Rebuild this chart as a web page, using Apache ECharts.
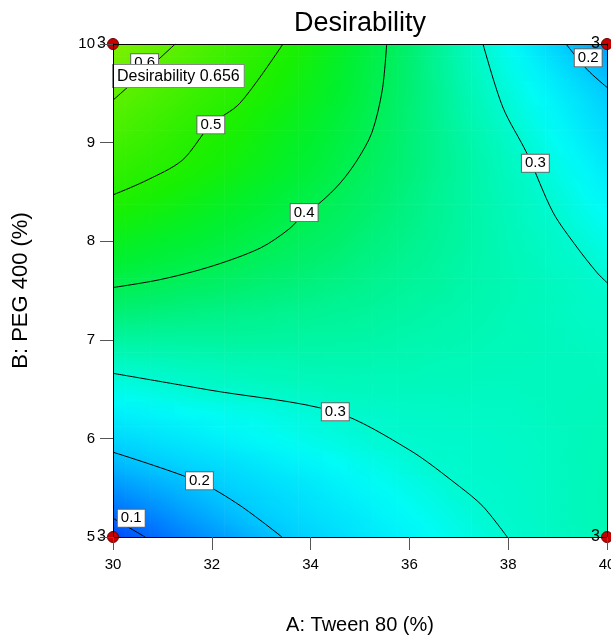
<!DOCTYPE html>
<html>
<head lang="en">
    <meta charset="UTF-8">
    <title>Desirability</title>
    <style>
        html, body { margin: 0; padding: 0; background: #fff; }
    </style>
</head>
<body>
    <div id="main" style="width:611px;height:643px"></div>

    <script src="https://cdn.jsdelivr.net/npm/echarts@6/dist/echarts.min.js"></script>
    <script>
        /* 网格: A (Tween 80) 30..40, B (PEG 400) 10..5 */
        var xVals = [30,30.5,31,31.5,32,32.5,33,33.5,34,34.5,35,35.5,36,36.5,37,37.5,38,38.5,39,39.5,40];
        var yVals = [10,9.75,9.5,9.25,9,8.75,8.5,8.25,8,7.75,7.5,7.25,7,6.75,6.5,6.25,6,5.75,5.5,5.25,5];
        // desirability, one row per yVals entry
        var desir = [
            [0.656,0.634,0.612,0.589,0.566,0.543,0.520,0.497,0.472,0.448,0.423,0.401,0.376,0.351,0.325,0.299,0.270,0.240,0.210,0.182,0.155],
            [0.631,0.609,0.587,0.566,0.545,0.523,0.502,0.481,0.460,0.438,0.417,0.397,0.374,0.351,0.328,0.306,0.281,0.256,0.230,0.205,0.181],
            [0.606,0.586,0.567,0.547,0.527,0.508,0.489,0.470,0.451,0.432,0.413,0.394,0.373,0.353,0.332,0.312,0.291,0.269,0.247,0.225,0.203],
            [0.580,0.562,0.544,0.525,0.507,0.490,0.473,0.457,0.440,0.423,0.407,0.389,0.371,0.353,0.335,0.318,0.300,0.279,0.258,0.237,0.216],
            [0.555,0.539,0.523,0.506,0.491,0.476,0.461,0.446,0.431,0.416,0.401,0.386,0.370,0.355,0.339,0.324,0.308,0.290,0.269,0.249,0.228],
            [0.529,0.516,0.504,0.490,0.477,0.463,0.449,0.436,0.422,0.408,0.395,0.381,0.368,0.354,0.341,0.327,0.314,0.300,0.280,0.261,0.241],
            [0.503,0.493,0.481,0.469,0.457,0.445,0.433,0.421,0.410,0.398,0.386,0.375,0.363,0.351,0.340,0.328,0.317,0.305,0.290,0.272,0.254],
            [0.477,0.467,0.458,0.448,0.438,0.428,0.419,0.409,0.399,0.389,0.379,0.369,0.359,0.349,0.339,0.329,0.319,0.309,0.299,0.283,0.266],
            [0.450,0.442,0.434,0.427,0.419,0.411,0.403,0.395,0.387,0.379,0.370,0.362,0.354,0.346,0.338,0.330,0.321,0.313,0.305,0.294,0.279],
            [0.424,0.418,0.412,0.406,0.400,0.394,0.387,0.381,0.374,0.368,0.361,0.355,0.348,0.342,0.335,0.329,0.322,0.316,0.309,0.303,0.291],
            [0.397,0.392,0.388,0.383,0.379,0.374,0.370,0.365,0.361,0.356,0.352,0.347,0.342,0.338,0.333,0.328,0.323,0.318,0.314,0.308,0.302],
            [0.368,0.365,0.363,0.360,0.358,0.355,0.353,0.350,0.348,0.345,0.343,0.339,0.336,0.332,0.329,0.325,0.321,0.317,0.314,0.310,0.307],
            [0.339,0.339,0.339,0.339,0.340,0.340,0.339,0.338,0.337,0.336,0.334,0.332,0.329,0.327,0.325,0.322,0.320,0.318,0.315,0.313,0.311],
            [0.310,0.313,0.315,0.318,0.320,0.322,0.323,0.324,0.325,0.325,0.325,0.324,0.323,0.321,0.320,0.318,0.317,0.316,0.315,0.315,0.314],
            [0.280,0.285,0.291,0.296,0.301,0.304,0.308,0.311,0.313,0.315,0.316,0.316,0.316,0.315,0.315,0.314,0.314,0.315,0.315,0.316,0.317],
            [0.249,0.255,0.260,0.266,0.271,0.277,0.282,0.288,0.293,0.299,0.304,0.306,0.308,0.309,0.310,0.310,0.311,0.313,0.315,0.317,0.319],
            [0.218,0.226,0.234,0.241,0.249,0.257,0.264,0.272,0.279,0.286,0.293,0.299,0.302,0.304,0.305,0.306,0.308,0.311,0.314,0.318,0.321],
            [0.184,0.196,0.206,0.215,0.223,0.232,0.241,0.250,0.258,0.267,0.276,0.284,0.293,0.301,0.303,0.305,0.307,0.310,0.314,0.318,0.322],
            [0.146,0.160,0.174,0.188,0.201,0.211,0.221,0.230,0.240,0.250,0.260,0.270,0.279,0.289,0.299,0.302,0.305,0.309,0.313,0.318,0.323],
            [0.109,0.126,0.143,0.160,0.176,0.193,0.206,0.216,0.227,0.237,0.247,0.258,0.268,0.278,0.289,0.299,0.304,0.308,0.313,0.318,0.323],
            [0.072,0.094,0.113,0.131,0.149,0.167,0.185,0.202,0.213,0.224,0.235,0.246,0.257,0.268,0.279,0.290,0.300,0.306,0.312,0.317,0.323]
        ];

        /* 等高线 [A, B] */
        var c06 = [[31.26,10],[30.65,9.72],[30,9.43]];
        var c05 = [[33.44,10],[32.57,9.40],[31.98,9.18],[31.40,8.82],[30.65,8.61],[30,8.47]];
        var c04 = [[35.54,10],[35.45,9.53],[35.24,9.10],[34.94,8.82],[34.60,8.59],[34.19,8.39],[33.89,8.29],
                   [33.58,8.13],[32.98,7.93],[31.96,7.74],[30.95,7.61],[30,7.53]];
        var c03r = [[37.49,10],[37.89,9.36],[38.38,8.89],[38.91,8.29],[39.39,7.94],[39.80,7.68],[40,7.58]];
        var c02r = [[39.17,10],[39.60,9.74],[40,9.56]];
        var c03b = [[30,6.66],[31.96,6.49],[34.49,6.27],[36.01,5.88],[37.02,5.51],[37.49,5.31],[37.98,5]];
        var c02b = [[30,5.86],[31.74,5.56],[32.57,5.32],[33.42,5]];
        var c01 = [[30,5.19],[30.65,5]];
        var contourLabels = [[30.64,9.81,'0.6'],[31.98,9.18,'0.5'],[33.87,8.29,'0.4'],[38.55,8.79,'0.3'],
                             [39.62,9.86,'0.2'],[34.50,6.27,'0.3'],[31.75,5.57,'0.2'],[30.37,5.19,'0.1']];

        /* 设计点 */
        var designPts = [[30,10],[40,10],[30,5],[40,5]];
        var designReps = ['3','3','3','3'];
        var flagPt = [30,10];
        var flagText = 'Desirability 0.656';

        var xTicks = {min: 30, max: 40, interval: 2};
        var yTicks = {min: 5, max: 10, interval: 1};

        /* 颜色 (blue -> cyan -> green -> lime) */
        var dMin = 0.05, dMax = 0.70;
        var palette = ['#0030f0','#0068ff','#00a0ff','#00d4ff','#00fcf8','#00f8b8','#00f070',
                       '#00f030','#18f000','#38f000','#58f000','#78f000','#98f000'];

        var cells = [];
        for (var j = 0; j < yVals.length; j++) {
            for (var i = 0; i < xVals.length; i++) {
                cells.push([xVals[i], yVals[j], desir[j][i]]);
            }
        }
        var points = designPts.map(function(p, k){ return [p[0], p[1], designReps[k]]; });

        var font = "'Liberation Sans', Arial, sans-serif";

        function colorOf(v) {
            var t = (v - dMin) / (dMax - dMin);
            t = Math.max(0, Math.min(1, t));
            return echarts.color.lerp(t, palette);
        }

        // each cell is shaded along the local slope so the surface reads smooth
        function renderCell(params, api) {
            var nx = xVals.length, ny = yVals.length;
            var idx = params.dataIndex;
            var i = idx % nx, j = Math.floor(idx / nx);
            var x = api.value(0), y = api.value(1), v = api.value(2);
            var x0 = Math.max(xTicks.min, x - 0.25), x1 = Math.min(xTicks.max, x + 0.25);
            var y0 = Math.max(yTicks.min, y - 0.125), y1 = Math.min(yTicks.max, y + 0.125);
            var p0 = api.coord([x0, y1]);
            var p1 = api.coord([x1, y0]);
            var c = api.coord([x, y]);

            var iL = Math.max(0, i - 1), iR = Math.min(nx - 1, i + 1);
            var jU = Math.max(0, j - 1), jD = Math.min(ny - 1, j + 1);
            var pL = api.coord([xVals[iL], y]), pR = api.coord([xVals[iR], y]);
            var pU = api.coord([x, yVals[jU]]), pD = api.coord([x, yVals[jD]]);
            var gx = (desir[j][iR] - desir[j][iL]) / (pR[0] - pL[0]);
            var gy = (desir[jD][i] - desir[jU][i]) / (pD[1] - pU[1]);
            var g = Math.sqrt(gx * gx + gy * gy);

            var fill = colorOf(v);
            if (g > 1e-6) {
                var ux = gx / g, uy = gy / g;
                var corners = [[p0[0], p0[1]], [p1[0], p0[1]], [p0[0], p1[1]], [p1[0], p1[1]]];
                var L = 0;
                corners.forEach(function(q){
                    L = Math.max(L, Math.abs(ux * (q[0] - c[0]) + uy * (q[1] - c[1])));
                });
                L += 1;
                fill = new echarts.graphic.LinearGradient(
                    c[0] - ux * L, c[1] - uy * L, c[0] + ux * L, c[1] + uy * L,
                    [{offset: 0, color: colorOf(v - g * L)},
                     {offset: 0.5, color: colorOf(v)},
                     {offset: 1, color: colorOf(v + g * L)}],
                    true
                );
            }
            return {
                type: 'rect',
                shape: {x: p0[0], y: p0[1], width: p1[0] - p0[0] + 0.6, height: p1[1] - p0[1] + 0.6},
                style: {fill: fill}
            };
        }

        function contour(data) {
            return {
                type: 'line',
                data: data,
                smooth: 0.3,
                showSymbol: false,
                silent: true,
                z: 3,
                lineStyle: {color: '#000', width: 1}
            };
        }

        var app = echarts.init(document.getElementById('main'));
        var option = {
            backgroundColor: '#fff',
            animation: false,
            title: {
                text: 'Desirability',
                left: 360,
                textAlign: 'center',
                top: 10,
                padding: 0,
                textStyle: {fontFamily: font, fontSize: 27, fontWeight: 'normal', color: '#000'}
            },
            grid: {left: 113, right: 4, top: 44, bottom: 106, outerBoundsMode: 'none', containLabel: false},
            xAxis: [
                {
                    type: 'value', min: xTicks.min, max: xTicks.max, interval: xTicks.interval,
                    z: 10,
                    name: 'A: Tween 80 (%)', nameLocation: 'middle', nameGap: 78,
                    nameTextStyle: {fontFamily: font, fontSize: 20, color: '#000'},
                    axisLine: {lineStyle: {color: '#000', width: 1}},
                    axisTick: {length: 13, lineStyle: {color: '#555'}},
                    axisLabel: {fontFamily: font, fontSize: 15, color: '#000', margin: 20},
                    splitLine: {show: false}
                },
                {
                    type: 'value', position: 'top', min: xTicks.min, max: xTicks.max, z: 10,
                    axisLine: {onZero: false, lineStyle: {color: '#000', width: 1}},
                    axisTick: {show: false}, axisLabel: {show: false}, splitLine: {show: false}
                }
            ],
            yAxis: [
                {
                    type: 'value', min: yTicks.min, max: yTicks.max, interval: yTicks.interval,
                    z: 10,
                    name: 'B: PEG 400 (%)', nameLocation: 'middle', nameGap: 81, nameRotate: 90,
                    nameTextStyle: {fontFamily: font, fontSize: 22, color: '#000'},
                    axisLine: {show: true, onZero: false, lineStyle: {color: '#000', width: 1}},
                    axisTick: {show: true, length: 13, lineStyle: {color: '#555'}},
                    axisLabel: {fontFamily: font, fontSize: 15, color: '#000', margin: 18},
                    splitLine: {show: false}
                },
                {
                    type: 'value', position: 'right', min: yTicks.min, max: yTicks.max, z: 10,
                    axisLine: {show: true, onZero: false, lineStyle: {color: '#000', width: 1}},
                    axisTick: {show: false}, axisLabel: {show: false}, splitLine: {show: false}
                }
            ],
            series: [
                {
                    type: 'custom',
                    renderItem: renderCell,
                    data: cells,
                    encode: {x: 0, y: 1},
                    silent: true,
                    z: 1
                },
                contour(c06), contour(c05), contour(c04), contour(c03r),
                contour(c02r), contour(c03b), contour(c02b), contour(c01),
                {
                    type: 'scatter',
                    data: contourLabels,
                    symbolSize: 0,
                    silent: true,
                    z: 4,
                    itemStyle: {opacity: 1},
                    label: {
                        show: true, position: 'inside',
                        formatter: function(p){ return p.value[2]; },
                        fontFamily: font, fontSize: 15, color: '#000', lineHeight: 16,
                        backgroundColor: '#fff', borderColor: '#666', borderWidth: 1, padding: [1, 3, 0, 3]
                    }
                },
                {
                    type: 'scatter',
                    data: [flagPt],
                    symbolSize: 0,
                    silent: true,
                    z: 6,
                    itemStyle: {opacity: 1},
                    label: {
                        show: true, position: [0, 21],
                        formatter: flagText,
                        fontFamily: font, fontSize: 16, color: '#000', lineHeight: 17,
                        backgroundColor: '#fff', borderColor: '#888', borderWidth: 1, padding: [3, 4, 2, 4]
                    }
                },
                {
                    type: 'scatter',
                    data: points,
                    symbolSize: 11,
                    silent: true,
                    z: 7,
                    itemStyle: {color: '#c80000', borderColor: '#6a0000', borderWidth: 1, opacity: 1},
                    label: {
                        show: true, position: 'left', distance: 1,
                        formatter: function(p){ return p.value[2]; },
                        fontFamily: font, fontSize: 16, color: '#000'
                    }
                }
            ]
        };
        app.setOption(option);
        window.addEventListener('resize', function(){
            app.resize();
        });
    </script>
</body>
</html>
